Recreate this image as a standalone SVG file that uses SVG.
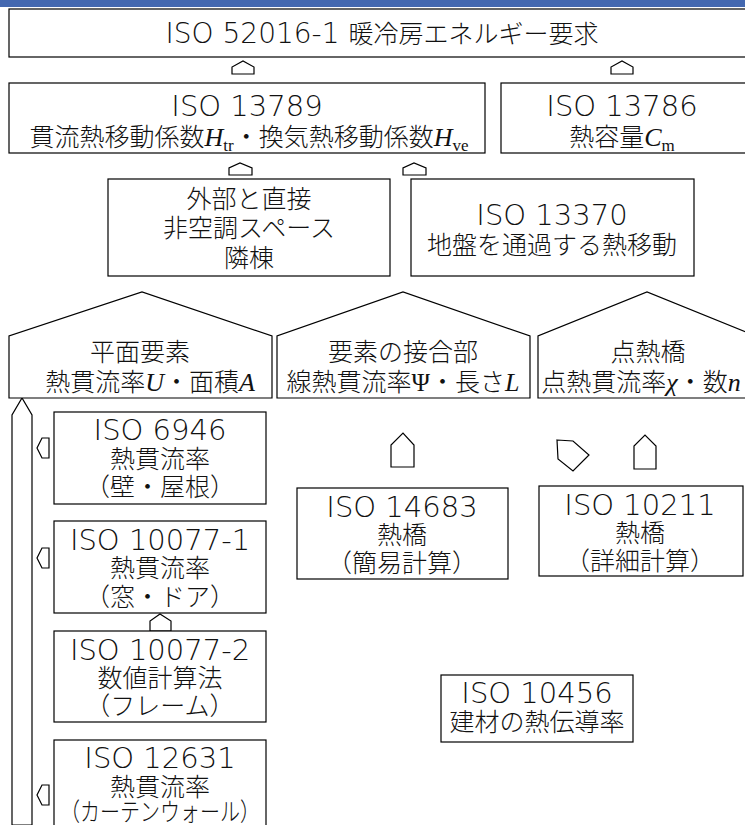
<svg xmlns="http://www.w3.org/2000/svg" width="745" height="825" viewBox="0 0 745 825">
<style>
.b{fill:#fff;stroke:#000;stroke-width:1.2}
.a{fill:#fff;stroke:#000;stroke-width:1.2;stroke-linejoin:miter}
text{font-family:"DejaVu Sans","Noto Sans CJK JP",sans-serif;font-size:25px;font-weight:300;fill:#111;text-anchor:middle}
.i{font-size:29px}
.m{font-family:"Liberation Serif",serif;font-style:italic;font-size:26px;font-weight:normal}
.g{font-family:"Liberation Serif",serif;font-style:normal;font-size:25px;font-weight:normal}
.s{font-family:"Liberation Serif",serif;font-style:normal;font-size:17px;font-weight:normal}
</style>
<rect x="0" y="0" width="745" height="7" fill="#4468B0"/>
<g id="connectors">
<polygon class="a" points="232,74 232,67 243,61 254,67 254,74"/>
<polygon class="a" points="611,74 611,67 622,61 633,67 633,74"/>
<polygon class="a" points="229,175 229,168 240,163 252,168 252,175"/>
<polygon class="a" points="403,175 403,168 414,163 426,168 426,175"/>
<polygon class="a" points="12,825 12,415 22,398 32,415 32,825"/>
<polygon class="a" points="49,438 42,438 37,448 42,458 49,458"/>
<polygon class="a" points="49,548 42,548 37,558 42,568 49,568"/>
<polygon class="a" points="49,785 42,785 37,795 42,805 49,805"/>
<polygon class="a" points="150,631 150,621 160,614 171,621 171,631"/>
<polygon class="a" points="391,467 391,445 403,433 414,445 414,467"/>
<polygon class="a" points="634,469 634,446 645,435 656,446 656,469"/>
<polygon class="a" points="557,440 573,441 589,455 573,471 558,459"/>
</g>
<g id="n52016">
<rect class="b" x="9" y="9" width="745" height="48"/>
<text x="382" y="43"><tspan font-size="28">ISO 52016-1 </tspan>暖冷房エネルギー要求</text>
</g>
<g id="n13789">
<rect class="b" x="9" y="83" width="476" height="70"/>
<text class="i" x="247" y="116">ISO 13789</text>
<text x="249" y="146">貫流熱移動係数<tspan class="m">H</tspan><tspan class="s" dy="5">tr</tspan><tspan dy="-5">・換気熱移動係数</tspan><tspan class="m">H</tspan><tspan class="s" dy="5">ve</tspan></text>
</g>
<g id="n13786">
<rect class="b" x="501" y="83" width="260" height="70"/>
<text class="i" x="622" y="116">ISO 13786</text>
<text x="622" y="146">熱容量<tspan class="m">C</tspan><tspan class="s" dy="5">m</tspan></text>
</g>
<g id="nadj">
<rect class="b" x="108" y="179" width="282" height="97"/>
<text x="249" y="208">外部と直接</text>
<text x="249" y="237">非空調スペース</text>
<text x="249" y="267">隣棟</text>
</g>
<g id="n13370">
<rect class="b" x="411" y="179" width="283" height="97"/>
<text class="i" x="552" y="225">ISO 13370</text>
<text x="552" y="254">地盤を通過する熱移動</text>
</g>
<g id="hplane">
<polygon class="b" points="9,398 9,336 142,292 272,336 272,398"/>
<text x="140" y="361">平面要素</text>
<text x="150" y="391">熱貫流率<tspan class="m">U</tspan>・面積<tspan class="m">A</tspan></text>
</g>
<g id="hjoint">
<polygon class="b" points="277,398 277,336 403,292 530,336 530,398"/>
<text x="403" y="361">要素の接合部</text>
<text x="403" y="391">線熱貫流率<tspan class="g">Ψ</tspan>・長さ<tspan class="m">L</tspan></text>
</g>
<g id="hpoint">
<polygon class="b" points="538,398 538,336 647,292 756,336 756,398"/>
<text x="648" y="361">点熱橋</text>
<text x="641" y="391">点熱貫流率<tspan class="m">χ</tspan>・数<tspan class="m">n</tspan></text>
</g>
<g id="n6946">
<rect class="b" x="54" y="412" width="212" height="92"/>
<text class="i" x="160" y="440">ISO 6946</text>
<text x="160" y="468">熱貫流率</text>
<text x="160" y="496">（壁・屋根）</text>
</g>
<g id="n10077-1">
<rect class="b" x="54" y="521" width="212" height="92"/>
<text class="i" x="160" y="550">ISO 10077-1</text>
<text x="160" y="577">熱貫流率</text>
<text x="160" y="606">（窓・ドア）</text>
</g>
<g id="n10077-2">
<rect class="b" x="54" y="631" width="212" height="91"/>
<text class="i" x="160" y="660">ISO 10077-2</text>
<text x="160" y="687">数値計算法</text>
<text x="160" y="715">（フレーム）</text>
</g>
<g id="n12631">
<rect class="b" x="54" y="740" width="212" height="100"/>
<text class="i" x="160" y="768">ISO 12631</text>
<text x="160" y="796">熱貫流率</text>
<text x="160" y="821" textLength="200" lengthAdjust="spacingAndGlyphs">（カーテンウォール）</text>
</g>
<g id="n14683">
<rect class="b" x="297" y="488" width="211" height="91"/>
<text class="i" x="402" y="517">ISO 14683</text>
<text x="402" y="544">熱橋</text>
<text x="402" y="572">（簡易計算）</text>
</g>
<g id="n10211">
<rect class="b" x="539" y="486" width="204" height="90"/>
<text class="i" x="640" y="515">ISO 10211</text>
<text x="640" y="542">熱橋</text>
<text x="640" y="570">（詳細計算）</text>
</g>
<g id="n10456">
<rect class="b" x="441" y="675" width="192" height="67"/>
<text class="i" x="537" y="703">ISO 10456</text>
<text x="537" y="731">建材の熱伝導率</text>
</g>
</svg>
